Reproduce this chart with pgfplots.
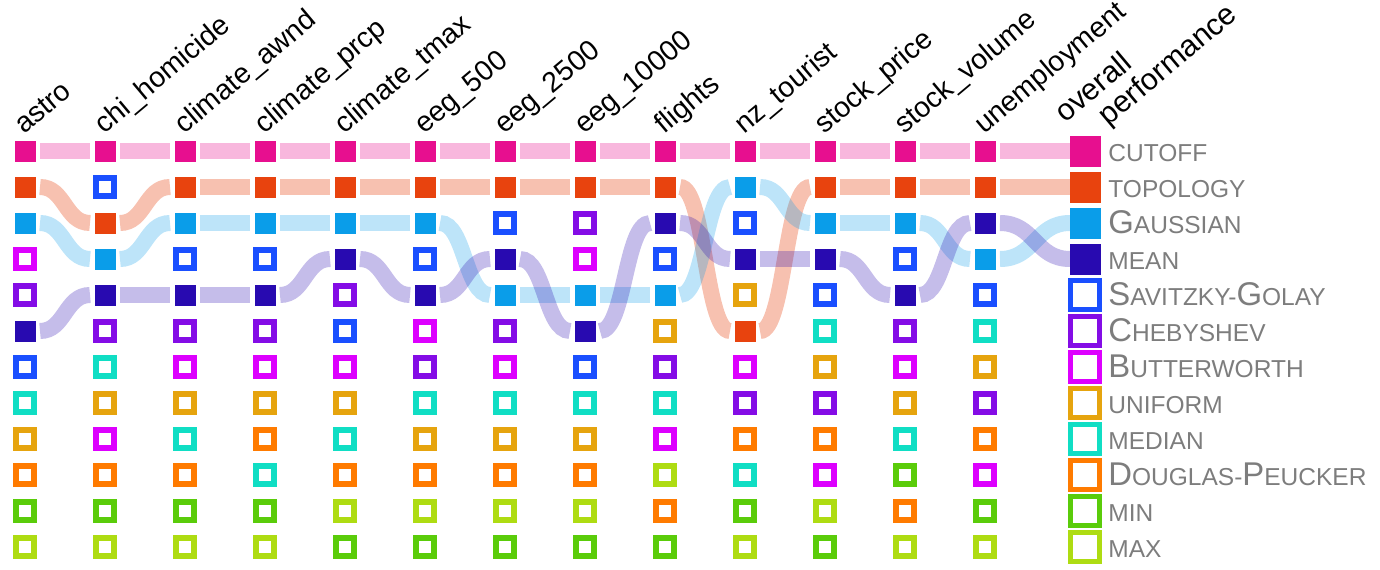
\documentclass[border=0pt]{standalone}
\usepackage{pgfplots}
\pgfplotsset{compat=1.18}
\usepackage{pgfplotstable}
\usepackage{fontspec}
\setmainfont{Liberation Sans}

\definecolor{cC}{HTML}{E70F8F}
\definecolor{cT}{HTML}{E8430E}
\definecolor{cG}{HTML}{0A9DE9}
\definecolor{cM}{HTML}{280AB0}
\definecolor{cSG}{HTML}{1A4FFF}
\definecolor{cCH}{HTML}{840CE6}
\definecolor{cB}{HTML}{DD00FF}
\definecolor{cU}{HTML}{E6A40E}
\definecolor{cMD}{HTML}{10DEC4}
\definecolor{cDP}{HTML}{FF7B00}
\definecolor{cMN}{HTML}{5ACC0A}
\definecolor{cMX}{HTML}{AEDC12}
\definecolor{lg}{RGB}{125,125,125}

% rank of each method (row 1 = best) for each dataset; x = column position
\pgfplotstableread{
x     C T G M SG CH B  U MD DP MN MX
0     1 2 3 6 7  5  4  9 8  10 11 12
1     1 3 4 5 2  6  9  8 7  10 11 12
2     1 2 3 5 4  6  7  8 9  10 11 12
3     1 2 3 5 4  6  7  8 10 9  11 12
4     1 2 3 4 6  5  7  8 9  10 12 11
5     1 2 3 5 4  7  6  9 8  10 12 11
6     1 2 5 4 3  6  7  9 8  10 12 11
7     1 2 5 6 7  3  4  9 8  10 12 11
8     1 2 5 3 4  7  9  6 8  11 12 10
9     1 6 2 4 3  8  7  5 10 9  11 12
10    1 2 3 4 5  8  10 7 6  9  12 11
11    1 2 3 5 4  6  7  8 9  11 10 12
12    1 2 4 3 5  8  10 7 6  9  11 12
13.25 1 2 3 4 5  6  7  8 9  10 11 12
}\ranks

\tikzset{
  lineC/.style={draw=cC, opacity=0.3, line width=8bp},
  lineT/.style={draw=cT, opacity=0.33, line width=8bp},
  lineG/.style={draw=cG, opacity=0.27, line width=8bp},
  lineM/.style={draw=cM, opacity=0.27, line width=8bp},
}
\pgfplotsset{
  fil/.style={only marks, mark=square*, color=#1, mark size=5bp, mark options={draw=none, fill=#1}},
  hol/.style={only marks, mark=square, color=#1, mark size=4.5bp, mark options={draw=#1, line width=3bp, fill=none}},
  bigfil/.style={only marks, mark=square*, color=#1, mark size=7.5bp, mark options={draw=none, fill=#1}},
  bighol/.style={only marks, mark=square, color=#1, mark size=7.1bp, mark options={draw=#1, line width=2.5bp, fill=none}},
}
\newcommand\BG[1]{{\fontsize{16.5}{19}\selectfont #1}}
\newcommand\SM[1]{{\fontsize{12.3}{14}\selectfont #1}}
\newcommand\lab{\fontsize{14.3}{17}\selectfont}
\newcommand\labb{\fontsize{15.2}{18}\selectfont}

\begin{document}
\begin{tikzpicture}
\begin{axis}[name=ax, x=40bp, y=18bp, y dir=reverse,
  xmin=-0.3125, xmax=16.9375, ymin=-3.19444, ymax=12.63889,
  hide axis, clip=false]

% connecting bands for the filled methods
\pgfplotsforeachungrouped \m in {C,T,G,M}{%
  \pgfplotsforeachungrouped \i in {0,...,12}{%
    \pgfmathtruncatemacro\j{\i+1}%
    \pgfplotstablegetelem{\i}{x}\of\ranks \let\xa\pgfplotsretval
    \pgfplotstablegetelem{\j}{x}\of\ranks \let\xb\pgfplotsretval
    \pgfplotstablegetelem{\i}{\m}\of\ranks \let\ya\pgfplotsretval
    \pgfplotstablegetelem{\j}{\m}\of\ranks \let\yb\pgfplotsretval
    \pgfmathsetmacro\xs{\xa+0.1875}%
    \pgfmathsetmacro\xe{\xb-0.1875}%
    \pgfmathsetmacro\xm{(\xs+\xe)/2}%
    \edef\cmd{\noexpand\draw[line\m] (axis cs:\xs,\ya) .. controls (axis cs:\xm,\ya) and (axis cs:\xm,\yb) .. (axis cs:\xe,\yb);}%
    \cmd
  }%
}

% squares per dataset
\pgfplotsinvokeforeach{C,T,G,M}{
  \addplot[fil=c#1, skip coords between index={13}{14}] table[x=x, y=#1]{\ranks};
  \addplot[bigfil=c#1, skip coords between index={0}{13}] table[x=x, y=#1]{\ranks};
}
\pgfplotsinvokeforeach{SG,CH,B,U,MD,DP,MN,MX}{
  \addplot[hol=c#1, skip coords between index={13}{14}] table[x=x, y=#1]{\ranks};
  \addplot[bighol=c#1, skip coords between index={0}{13}] table[x=x, y=#1]{\ranks};
}

% column labels
\begin{scope}[every node/.style={rotate=40, anchor=base west, inner sep=0pt, font=\lab}]
\node at (axis cs:-0.0125,0.5556) {astro};
\node at (axis cs:0.9875,0.5556) {chi\_homicide};
\node at (axis cs:1.9875,0.5556) {climate\_awnd};
\node at (axis cs:2.9875,0.5556) {climate\_prcp};
\node at (axis cs:3.9875,0.5556) {climate\_tmax};
\node at (axis cs:4.9875,0.5556) {eeg\_500};
\node at (axis cs:5.9875,0.5556) {eeg\_2500};
\node at (axis cs:6.9875,0.5556) {eeg\_10000};
\node at (axis cs:7.9875,0.5556) {flights};
\node at (axis cs:8.9875,0.5556) {nz\_tourist};
\node at (axis cs:9.9875,0.5556) {stock\_price};
\node at (axis cs:10.9875,0.5556) {stock\_volume};
\node at (axis cs:11.9875,0.5556) {unemployment};
\node[font=\labb] at (axis cs:13.0,0.25) {overall};
\node[font=\labb] at (axis cs:13.54,0.3333) {performance};
\end{scope}

% legend text
\begin{scope}[every node/.style={anchor=base west, text=lg, inner sep=0pt}]
\node at (axis cs:13.5375,1.2917) {\SM{CUTOFF}};
\node at (axis cs:13.5375,2.2917) {\SM{TOPOLOGY}};
\node at (axis cs:13.5375,3.2917) {\BG{G}\SM{AUSSIAN}};
\node at (axis cs:13.5375,4.2917) {\SM{MEAN}};
\node at (axis cs:13.5375,5.2917) {\BG{S}\SM{AVITZKY-}\BG{G}\SM{OLAY}};
\node at (axis cs:13.5375,6.2917) {\BG{C}\SM{HEBYSHEV}};
\node at (axis cs:13.5375,7.2917) {\BG{B}\SM{UTTERWORTH}};
\node at (axis cs:13.5375,8.2917) {\SM{UNIFORM}};
\node at (axis cs:13.5375,9.2917) {\SM{MEDIAN}};
\node at (axis cs:13.5375,10.2917) {\BG{D}\SM{OUGLAS-}\BG{P}\SM{EUCKER}};
\node at (axis cs:13.5375,11.2917) {\SM{MIN}};
\node at (axis cs:13.5375,12.2917) {\SM{MAX}};
\end{scope}
\end{axis}
\pgfresetboundingbox
\path (ax.south west) rectangle (ax.north east);
\end{tikzpicture}
\end{document}
